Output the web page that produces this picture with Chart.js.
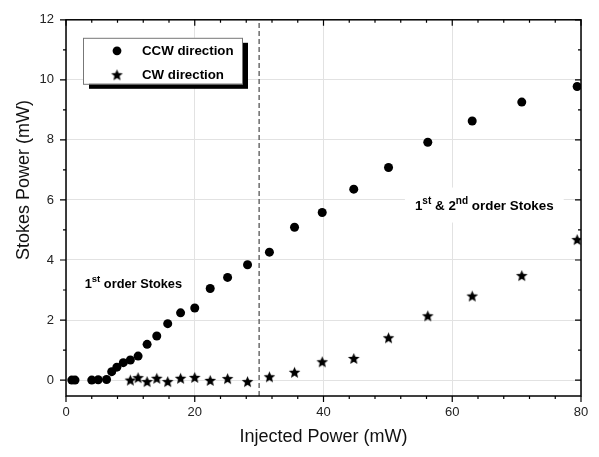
<!DOCTYPE html>
<html>
<head>
<meta charset="utf-8">
<script src="https://cdn.jsdelivr.net/npm/chart.js@4.4.1/dist/chart.umd.min.js"></script>
<style>
  html, body { margin: 0; padding: 0; background: #fff; }
  #wrap { width: 599px; height: 457px; }
</style>
</head>
<body>
<div id="wrap"><canvas id="c"></canvas></div>
<script>
// ── data ──────────────────────────────────────────────────────────────────
const ccwPower  = [0.9, 1.4, 4.0, 5.0, 6.3, 7.1, 7.9, 8.9, 10.0, 11.2, 12.6, 14.1, 15.8, 17.8, 20.0,
                   22.4, 25.1, 28.2, 31.6, 35.5, 39.8, 44.7, 50.1, 56.2, 63.1, 70.8, 79.4];
const ccwStokes = [0, 0, 0, 0.01, 0.02, 0.28, 0.43, 0.58, 0.67, 0.80, 1.19, 1.47, 1.88, 2.24, 2.40,
                   3.05, 3.42, 3.84, 4.26, 5.09, 5.58, 6.36, 7.08, 7.92, 8.63, 9.26, 9.78];

const cwPower   = [10.0, 11.2, 12.6, 14.1, 15.8, 17.8, 20.0, 22.4, 25.1, 28.2, 31.6, 35.5, 39.8,
                   44.7, 50.1, 56.2, 63.1, 70.8, 79.4];
const cwStokes  = [0.0, 0.08, -0.05, 0.06, -0.05, 0.06, 0.09, -0.01, 0.05, -0.05, 0.11, 0.26, 0.61,
                   0.72, 1.41, 2.14, 2.80, 3.48, 4.68];

const seriesLabels = ["CCW direction", "CW direction"];
const thresholdPower = 30;
const xTicks = [0, 20, 40, 60, 80];
const yTicks = [0, 2, 4, 6, 8, 10, 12];
const X_MIN = 0, X_MAX = 80, Y_MIN = -0.53, Y_MAX = 12;

const FONT = 'Arial, "Liberation Sans", Helvetica, sans-serif';
Chart.defaults.font.family = FONT;

// filled five-point star used as point style
function makeStar(r) {
  const size = Math.ceil(r * 2 + 2);
  const cv = document.createElement("canvas");
  cv.width = size; cv.height = size;
  const g = cv.getContext("2d");
  g.translate(size / 2, size / 2 + r * 0.08);
  g.beginPath();
  for (let i = 0; i < 10; i++) {
    const rad = i % 2 ? r * 0.44 : r;
    const a = -Math.PI / 2 + i * Math.PI / 5;
    g.lineTo(rad * Math.cos(a), rad * Math.sin(a));
  }
  g.closePath();
  g.fillStyle = "#000";
  g.fill();
  return cv;
}
const starImg = makeStar(6.1);

const toPts = (xs, ys) => xs.map((v, i) => ({ x: v, y: ys[i] }));

// text with superscripts: parts = [[text, isSup], ...]
function drawRich(ctx, x, y, parts, size) {
  for (const [t, sup] of parts) {
    ctx.font = "bold " + (sup ? size * 0.75 : size) + "px " + FONT;
    ctx.fillText(t, x, sup ? y - size * 0.42 : y);
    x += ctx.measureText(t).width;
  }
  return x;
}
function richWidth(ctx, parts, size) {
  let w = 0;
  for (const [t, sup] of parts) {
    ctx.font = "bold " + (sup ? size * 0.75 : size) + "px " + FONT;
    w += ctx.measureText(t).width;
  }
  return w;
}

const note1 = [["1", false], ["st", true], [" order Stokes", false]];
const note2 = [["1", false], ["st", true], [" & 2", false], ["nd", true], [" order Stokes", false]];

// ── frame, ticks, notes and legend ────────────────────────────────────────
const decorPlugin = {
  id: "decor",
  beforeDatasetsDraw(chart) {
    const { ctx, scales: { x, y } } = chart;
    ctx.save();
    ctx.fillStyle = "#000";
    ctx.textBaseline = "alphabetic";
    // 1st order note
    drawRich(ctx, x.getPixelForValue(2.9), y.getPixelForValue(3.08), note1, 12.8);
    // 1st & 2nd order note on white box
    const nx = x.getPixelForValue(54.2), ny = y.getPixelForValue(5.68);
    const w = richWidth(ctx, note2, 13.4);
    ctx.fillStyle = "#fff";
    ctx.fillRect(nx - 10, ny - 22, w + 20, 35);
    ctx.fillStyle = "#000";
    drawRich(ctx, nx, ny, note2, 13.4);
    ctx.restore();
  },
  afterDraw(chart) {
    const { ctx, chartArea: a, scales: { x, y } } = chart;
    ctx.save();
    ctx.strokeStyle = "#000";
    ctx.lineWidth = 1.5;
    ctx.strokeRect(a.left, a.top, a.right - a.left, a.bottom - a.top);

    ctx.lineWidth = 1.2;
    ctx.beginPath();
    for (let v = X_MIN; v <= X_MAX; v += 4) {
      const px = x.getPixelForValue(v);
      const len = v % 20 === 0 ? 6 : 3;
      ctx.moveTo(px, a.bottom); ctx.lineTo(px, a.bottom + len);   // bottom: outward
      ctx.moveTo(px, a.top);    ctx.lineTo(px, a.top + len);      // top: inward
    }
    for (let v = 0; v <= Y_MAX; v += 1) {
      const py = y.getPixelForValue(v);
      const len = v % 2 === 0 ? 6 : 3;
      ctx.moveTo(a.left, py);  ctx.lineTo(a.left - len, py);      // left: outward
      ctx.moveTo(a.right, py); ctx.lineTo(a.right - len, py);     // right: inward
    }
    ctx.stroke();

    // y axis title
    ctx.fillStyle = "#111";
    ctx.font = "18px " + FONT;
    ctx.textAlign = "center";
    ctx.textBaseline = "middle";
    ctx.translate(24, 180);
    ctx.rotate(-Math.PI / 2);
    ctx.fillText("Stokes Power (mW)", 0, 0);
    ctx.restore();

    // legend with drop shadow
    ctx.save();
    const bx = a.left + 17, by = a.top + 18, bw = 159, bh = 46;
    ctx.fillStyle = "#000";
    ctx.fillRect(bx + 6, by + 5, bw, bh);
    ctx.fillStyle = "#fff";
    ctx.fillRect(bx, by, bw, bh);
    ctx.strokeStyle = "#777";
    ctx.lineWidth = 1;
    ctx.strokeRect(bx + 0.5, by + 0.5, bw, bh);
    ctx.fillStyle = "#000";
    ctx.beginPath();
    ctx.arc(bx + 34, by + 13, 4.4, 0, Math.PI * 2);
    ctx.fill();
    ctx.drawImage(starImg, bx + 34 - starImg.width / 2, by + 37 - starImg.height / 2);
    ctx.font = "bold 13.3px " + FONT;
    ctx.textBaseline = "middle";
    ctx.fillText(seriesLabels[0], bx + 59, by + 14);
    ctx.fillText(seriesLabels[1], bx + 59, by + 38);
    ctx.restore();
  }
};

new Chart(document.getElementById("c"), {
  type: "scatter",
  data: {
    datasets: [
      {
        label: seriesLabels[0],
        data: toPts(ccwPower, ccwStokes),
        pointStyle: "circle",
        pointRadius: 4.5,
        pointHoverRadius: 4.5,
        backgroundColor: "#000",
        borderColor: "#000",
        borderWidth: 0,
      },
      {
        label: seriesLabels[1],
        data: toPts(cwPower, cwStokes),
        pointStyle: starImg,
        pointRadius: 6,
        backgroundColor: "#000",
        borderColor: "#000",
      },
      {
        label: "threshold",
        data: [{ x: thresholdPower, y: Y_MIN }, { x: thresholdPower, y: Y_MAX }],
        showLine: true,
        pointRadius: 0,
        borderColor: "#555",
        borderWidth: 1.3,
        borderDash: [5, 3],
      },
    ],
  },
  options: {
    responsive: true,
    maintainAspectRatio: false,
    animation: false,
    layout: { padding: { top: 14, right: 18, left: 0, bottom: 0 } },
    plugins: { legend: { display: false }, tooltip: { enabled: false } },
    scales: {
      x: {
        type: "linear",
        min: X_MIN, max: X_MAX,
        afterFit: (s) => { s.height = 61; },
        afterBuildTicks: (s) => { s.ticks = xTicks.map(v => ({ value: v })); },
        ticks: { color: "#222", font: { size: 13 }, padding: 9 },
        grid: { color: "#e2e2e2", lineWidth: 1, drawTicks: false },
        border: { display: false },
        title: { display: true, text: "Injected Power (mW)", color: "#111",
                 font: { size: 18 }, padding: { top: 0, bottom: 9 } },
      },
      y: {
        type: "linear",
        min: Y_MIN, max: Y_MAX,
        afterFit: (s) => { s.width = 66; },
        afterBuildTicks: (s) => { s.ticks = yTicks.map(v => ({ value: v })); },
        ticks: { color: "#222", font: { size: 13 }, padding: 12 },
        grid: { color: "#e2e2e2", lineWidth: 1, drawTicks: false },
        border: { display: false },
        title: { display: false },
      },
    },
  },
  plugins: [decorPlugin],
});
</script>
</body>
</html>
